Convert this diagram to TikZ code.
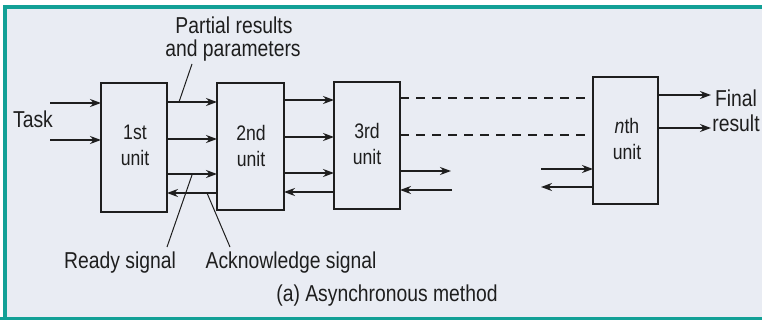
\documentclass[tikz,border=0pt]{standalone}
\usepackage{fontspec}
\setmainfont{Liberation Sans}[FakeStretch=0.84]
\usetikzlibrary{arrows.meta}
\definecolor{bg}{HTML}{E9ECF3}
\definecolor{teal2}{HTML}{12A096}
\definecolor{ink}{HTML}{1E1E1E}
\begin{document}
\begin{tikzpicture}[x=1pt,y=-1pt,
  unitbox/.style={draw=ink,line width=2.2pt},
  sig/.style={draw=ink,line width=1.8pt,-{Stealth[length=11pt,width=8pt]}},
  dsh/.style={draw=ink,line width=1.8pt,dash pattern=on 9pt off 7pt},
  ptr/.style={draw=ink,line width=1pt},
  lbl/.style={font=\fontsize{23}{24}\selectfont,text=ink,inner sep=0pt,anchor=base},
  ulbl/.style={font=\fontsize{21}{26}\selectfont,text=ink,align=center,inner sep=0pt,anchor=base}]
\useasboundingbox (0,0) rectangle (762,320);
\fill[white] (0,0) rectangle (762,320);
\fill[bg] (5,7) rectangle (762,318);
\draw[teal2,line width=4pt] (5,320) -- (5,7) -- (762,7);
\draw[teal2,line width=3pt] (0,318.5) -- (762,318.5);
% units
\draw[unitbox] (101,83) rectangle (167,212);
\draw[unitbox] (217,83) rectangle (284,210);
\draw[unitbox] (334,82) rectangle (400,209);
\draw[unitbox] (593,77) rectangle (658,204);
\node[ulbl] (u1) at (135,166) {1st\\unit};
\node[ulbl] (u2) at (251,167) {2nd\\unit};
\node[ulbl] (u3) at (367,165) {3rd\\unit};
\node[ulbl] (un) at (627,160) {\textit{n}th\\unit};
% coordinates
\coordinate (t1s) at (50,103); \coordinate (t1e) at (101,103);
\coordinate (t2s) at (50,140); \coordinate (t2e) at (101,140);
\foreach \y/\n in {102/a,139/b,174/c}{
  \coordinate (a\n s) at (167,\y); \coordinate (a\n e) at (217,\y);}
\coordinate (ack1s) at (217,193); \coordinate (ack1e) at (167,193);
\foreach \y/\n in {100/a,137/b,173/c}{
  \coordinate (b\n s) at (284,\y); \coordinate (b\n e) at (334,\y);}
\coordinate (ack2s) at (334,192); \coordinate (ack2e) at (284,192);
\coordinate (d1s) at (400,98); \coordinate (d1e) at (593,98);
\coordinate (d2s) at (400,135); \coordinate (d2e) at (593,135);
\coordinate (c1s) at (400,171); \coordinate (c1e) at (451,171);
\coordinate (c2s) at (452,190); \coordinate (c2e) at (400,190);
\coordinate (n1s) at (541,169); \coordinate (n1e) at (593,169);
\coordinate (n2s) at (593,187); \coordinate (n2e) at (541,187);
\coordinate (o1s) at (658,95); \coordinate (o1e) at (711,95);
\coordinate (o2s) at (658,128); \coordinate (o2e) at (711,128);
% arrows
\draw[sig] (t1s) -- (t1e);
\draw[sig] (t2s) -- (t2e);
\draw[sig] (aas) -- (aae);
\draw[sig] (abs) -- (abe);
\draw[sig] (acs) -- (ace);
\draw[sig] (ack1s) -- (ack1e);
\draw[sig] (bas) -- (bae);
\draw[sig] (bbs) -- (bbe);
\draw[sig] (bcs) -- (bce);
\draw[sig] (ack2s) -- (ack2e);
\draw[dsh] (d1s) -- (d1e);
\draw[dsh] (d2s) -- (d2e);
\draw[sig] (c1s) -- (c1e);
\draw[sig] (c2s) -- (c2e);
\draw[sig] (n1s) -- (n1e);
\draw[sig] (n2s) -- (n2e);
\draw[sig] (o1s) -- (o1e);
\draw[sig] (o2s) -- (o2e);
% labels
\node[lbl] (task) at (33,128) {Task};
\node[lbl] (fin) at (736,107) {Final};
\node[lbl] (res) at (736,132) {result};
\node[lbl] (pr) at (234,34) {Partial results};
\node[lbl] (ap) at (233,57) {and parameters};
\node[lbl] (rdy) at (120,268) {Ready signal};
\node[lbl] (ack) at (291,268) {Acknowledge signal};
\node[lbl] (cap) at (387,301) {(a) Asynchronous method};
% pointers
\coordinate (p1a) at (192,64); \coordinate (p1b) at (179,102);
\coordinate (p2a) at (167,247); \coordinate (p2b) at (192,175);
\coordinate (p3a) at (230,247); \coordinate (p3b) at (207,193);
\draw[ptr] (p1a) -- (p1b);
\draw[ptr] (p2a) -- (p2b);
\draw[ptr] (p3a) -- (p3b);
\end{tikzpicture}
\end{document}
